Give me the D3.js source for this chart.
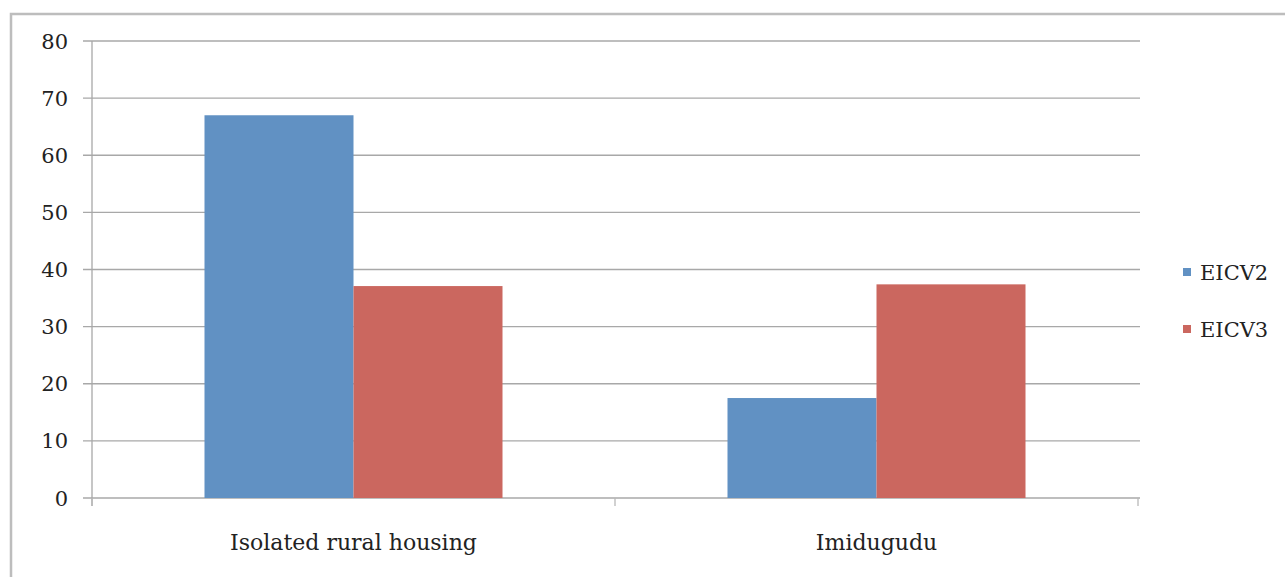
<!DOCTYPE html>
<html><head><meta charset="utf-8">
<script src="https://cdn.jsdelivr.net/npm/d3@7"></script>
<style>body{margin:0;background:#fff}svg{display:block}</style>
</head><body><svg id="c" width="1285" height="577" font-family="'DejaVu Serif', 'Liberation Serif', serif"></svg>
<script>
const categories = ["Isolated rural housing", "Imidugudu"];
const seriesNames = ["EICV2", "EICV3"];
const eicv2 = [67.0, 17.5];
const eicv3 = [37.1, 37.4];
const yTicks = [0, 10, 20, 30, 40, 50, 60, 70, 80];
const colors = ["#6191c3", "#cb675f"];

const svg = d3.select("#c");
svg.append("rect").attr("x", 11).attr("y", 14).attr("width", 1290).attr("height", 600)
  .attr("fill", "none").attr("stroke", "#bdbdbd").attr("stroke-width", 2.5);

const L = 92, R = 1138, T = 41, B = 498;
const x = d3.scaleBand().domain(categories).range([L, R]).paddingInner(0).paddingOuter(0);
const x1 = d3.scaleBand().domain(seriesNames).range([0, x.bandwidth()]).paddingInner(0).paddingOuter(0.755);
const y = d3.scaleLinear().domain([0, 80]).range([B, T]);

svg.append("g").selectAll("line").data(yTicks).join("line")
  .attr("x1", L - 9).attr("x2", R + 2).attr("y1", d => y(d)).attr("y2", d => y(d))
  .attr("stroke", "#a8a8a8").attr("stroke-width", 1.3);

svg.append("line").attr("x1", L).attr("x2", L).attr("y1", T).attr("y2", B + 8)
  .attr("stroke", "#a8a8a8").attr("stroke-width", 1.3);
const xt = [L, (L + R) / 2, R];
svg.append("g").selectAll("line").data(xt).join("line")
  .attr("x1", d => d).attr("x2", d => d).attr("y1", B).attr("y2", B + 8)
  .attr("stroke", "#b8b8b8").attr("stroke-width", 1.3);

svg.append("g").selectAll("text").data(yTicks).join("text")
  .attr("x", 68).attr("y", d => y(d)).attr("dy", "0.36em").attr("text-anchor", "end")
  .attr("font-size", 21).attr("fill", "#222").text(d => d);

const rows = categories.map((c, i) => ({c, vals: [eicv2[i], eicv3[i]]}));
const g = svg.append("g").selectAll("g").data(rows).join("g")
  .attr("transform", d => `translate(${x(d.c)},0)`);
g.selectAll("rect").data(d => d.vals.map((v, j) => ({v, s: seriesNames[j], j}))).join("rect")
  .attr("x", d => x1(d.s)).attr("width", x1.bandwidth())
  .attr("y", d => y(d.v)).attr("height", d => y(0) - y(d.v))
  .attr("fill", d => colors[d.j]);

svg.append("g").selectAll("text").data(categories).join("text")
  .attr("x", d => x(d) + x.bandwidth() / 2).attr("y", 550).attr("text-anchor", "middle")
  .attr("font-size", 22).attr("fill", "#222").text(d => d);

const lg = svg.append("g").selectAll("g").data(seriesNames).join("g")
  .attr("transform", (d, i) => `translate(1183,${268 + i * 57})`);
lg.append("rect").attr("width", 8).attr("height", 8).attr("fill", (d, i) => colors[i]);
lg.append("text").attr("x", 17).attr("y", 4).attr("dy", "0.36em").attr("font-size", 21).attr("fill", "#222").text(d => d);
</script></body></html>
